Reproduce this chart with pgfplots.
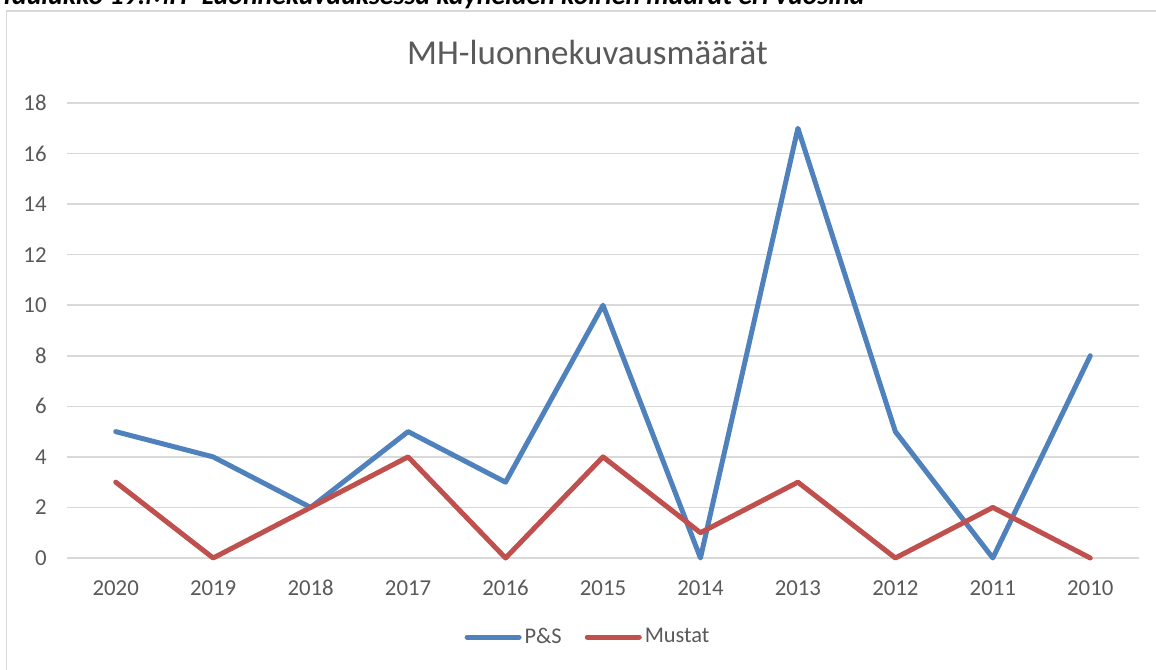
\documentclass[border=0pt]{standalone}
\usepackage{pgfplots}
\pgfplotsset{compat=1.18}
\usepackage{fontspec}
\setmainfont{Carlito}
\definecolor{ps}{HTML}{4F81BD}
\definecolor{mu}{HTML}{C0504D}
\definecolor{txt}{HTML}{595959}
\definecolor{grd}{HTML}{D9D9D9}
\begin{document}
\begin{tikzpicture}
\begin{axis}[
  at={(0pt,0pt)}, anchor=south west,
  scale only axis, width=536pt, height=227.5pt,
  xmin=-0.5, xmax=10.5, ymin=0, ymax=18,
  xtick={0,...,10},
  xticklabels={2020,2019,2018,2017,2016,2015,2014,2013,2012,2011,2010},
  ytick={0,2,...,18},
  axis line style={draw=none},
  tick style={draw=none},
  ymajorgrids, grid style={grd, line width=0.75pt},
  /pgf/number format/assume math mode=true,
  ticklabel style={font=\fontsize{11.4}{13}\selectfont, text=txt, inner sep=0pt},
  xticklabel style={anchor=north},
  yticklabel style={anchor=east},
  xticklabel shift=11pt,
  yticklabel shift=10pt,
  clip=false,
  legend columns=2,
  legend style={at={(rel axis cs:0.4865,0)}, anchor=center, yshift=-39.5pt, draw=none, fill=none,
    font=\fontsize{11.2}{13}\selectfont, text=txt, inner sep=0pt,
    /tikz/every even column/.append style={column sep=10pt},
    nodes={inner sep=1.5pt}},
  legend image code/.code={\draw[#1, line cap=round] (0pt,0pt) -- (26pt,0pt);},
]
\addplot[ps, line width=2.5pt, line join=round, line cap=round] coordinates {
(0,5) (1,4) (2,2) (3,5) (4,3) (5,10) (6,0) (7,17) (8,5) (9,0) (10,8)};
\addlegendentry{P\&S}
\addplot[mu, line width=2.5pt, line join=round, line cap=round] coordinates {
(0,3) (1,0) (2,2) (3,4) (4,0) (5,4) (6,1) (7,3) (8,0) (9,2) (10,0)};
\addlegendentry{Mustat}
\end{axis}
\draw[grd, line width=0.75pt] (-30.25pt,273.5pt) rectangle (600pt,-100pt);
\node[anchor=base, text=txt, inner sep=0pt, font=\fontsize{17.5}{20}\selectfont] at (260.25pt,246.5pt) {MH-luonnekuvausmäärät};
\node[anchor=base west, inner sep=0pt, font=\fontsize{13.9}{16}\selectfont\bfseries\itshape] at (-33.5pt,276.5pt) {Taulukko 19.MH -Luonnekuvauksessa käyneiden koirien määrät eri vuosina};
\pgfresetboundingbox
\path[use as bounding box] (-33.5pt,-55.5pt) rectangle (544.5pt,279pt);
\end{tikzpicture}
\end{document}
